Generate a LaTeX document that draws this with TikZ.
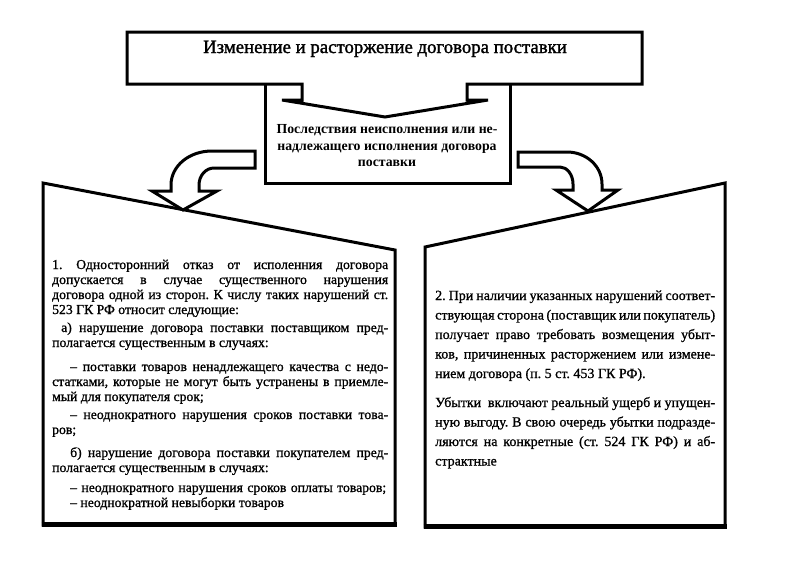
\documentclass[tikz,border=0pt]{standalone}
\usepackage{fontspec}
\setmainfont{Liberation Serif}
\newfontfamily\bodyfam[FakeBold=1]{Liberation Serif}
\newfontfamily\titlefam[FakeBold=1.5]{Liberation Serif}
\newcommand{\bodyfont}{\bodyfam\fontsize{13.7}{15}\selectfont}
\newcommand{\rbodyfont}{\bodyfam\fontsize{14}{15}\selectfont}
\newcommand{\jl}[2]{\makebox[#1][s]{#2}}
\frenchspacing
\begin{document}
\begin{tikzpicture}[x=1pt,y=-1pt]
\tikzset{
  frame/.style={draw=black, line width=3pt, fill=white, line join=miter},
  lline/.style={anchor=base west, inner sep=0pt, font=\bodyfont},
  rline/.style={anchor=base west, inner sep=0pt, font=\rbodyfont},
  midline/.style={anchor=base, inner sep=0pt, font=\bfseries\fontsize{13.8}{17}\selectfont},
}
\fill[white] (0,0) rectangle (800,560);
\useasboundingbox (0,0) rectangle (800,560);

% lower boxes
\draw[frame] (43,183) -- (395,250) -- (395,525) -- (43,525) -- cycle;
\draw[line width=5pt] (41.5,524) -- (396.5,524);
\draw[frame] (425,247) -- (725,183) -- (725,527) -- (425,527) -- cycle;
\draw[line width=5pt] (423.5,526) -- (726.5,526);

% middle box
\fill[white] (265,84) rectangle (510,183);
\draw[frame, fill=none] (265,84) -- (265,183) -- (510,183) -- (510,84);
% top box with block arrow
\draw[frame] (127,32) -- (642,32) -- (642,84) -- (467,84) -- (467,100) -- (488,100)
  -- (385,117) -- (282,100) -- (302,100) -- (302,84) -- (127,84) -- cycle;

% curved arrows
\draw[frame] (255,151) -- (212,151) .. controls (189,151) and (171,166) .. (171,185)
  -- (171,191) -- (152,191) -- (183,210) -- (217,191) -- (199,191) -- (199,185)
  .. controls (199,175.6) and (205.7,168) .. (214,168) -- (255,168) -- cycle;
\draw[frame] (518,152) -- (567,152) .. controls (586,152) and (602,166) .. (602,184)
  -- (602,190) -- (618,190) -- (588,211) -- (556,190) -- (573,190) -- (573,184)
  .. controls (573,174.6) and (567,167) .. (560,167) -- (518,167) -- cycle;

% texts
\node[anchor=base, inner sep=0pt, font=\titlefam\fontsize{18.8}{20}\selectfont] (title) at (385,53)
  {Изменение и расторжение договора поставки};
\node[midline] (m1) at (387,133) {Последствия неисполнения или не-};
\node[midline] (m2) at (387,150) {надлежащего исполнения договора};
\node[midline] (m3) at (387,166) {поставки};

\node[lline] (l1) at (52,269) {\jl{336pt}{1. Односторонний отказ от исполенния договора}};
\node[lline] (l2) at (52,284) {\jl{336pt}{допускается в случае существенного нарушения}};
\node[lline] (l3) at (52,299) {\jl{336pt}{договора одной из сторон. К числу таких нарушений ст.}};
\node[lline] (l4) at (52,314) {523 ГК РФ относит следующие:};
\node[lline] (l5) at (61,332) {\jl{327pt}{а) нарушение договора поставки поставщиком пред-}};
\node[lline] (l6) at (52,347) {полагается существенным в случаях:};
\node[lline] (l7) at (70,371) {\jl{318pt}{– поставки товаров ненадлежащего качества с недо-}};
\node[lline] (l8) at (52,386) {\jl{336pt}{статками, которые не могут быть устранены в приемле-}};
\node[lline] (l9) at (52,401) {мый для покупателя срок;};
\node[lline] (l10) at (70,419) {\jl{318pt}{– неоднократного нарушения сроков поставки това-}};
\node[lline] (l11) at (52,434) {ров;};
\node[lline] (l12) at (70,457) {\jl{318pt}{б) нарушение договора поставки покупателем пред-}};
\node[lline] (l13) at (52,472) {полагается существенным в случаях:};
\node[lline] (l14) at (70,492) {\jl{316pt}{– неоднократного нарушения сроков оплаты товаров;}};
\node[lline] (l15) at (70,507) {– неоднократной невыборки товаров};

\node[rline] (r1) at (435,300) {\jl{280pt}{2. При наличии указанных нарушений соответ-}};
\node[rline] (r2) at (435,319.5) {\jl{280pt}{ствующая сторона (поставщик или покупатель)}};
\node[rline] (r3) at (435,339) {\jl{280pt}{получает право требовать возмещения убыт-}};
\node[rline] (r4) at (435,358.5) {\jl{280pt}{ков, причиненных расторжением или измене-}};
\node[rline] (r5) at (435,378) {нием договора (п. 5 ст. 453 ГК РФ).};
\node[rline] (r6) at (435,407) {\jl{280pt}{Убытки\ \ включают реальный ущерб и упущен-}};
\node[rline] (r7) at (435,426.5) {\jl{280pt}{ную выгоду. В свою очередь убытки подразде-}};
\node[rline] (r8) at (435,446) {\jl{280pt}{ляются на конкретные (ст. 524 ГК РФ) и аб-}};
\node[rline] (r9) at (435,465.5) {страктные};
\end{tikzpicture}
\end{document}
